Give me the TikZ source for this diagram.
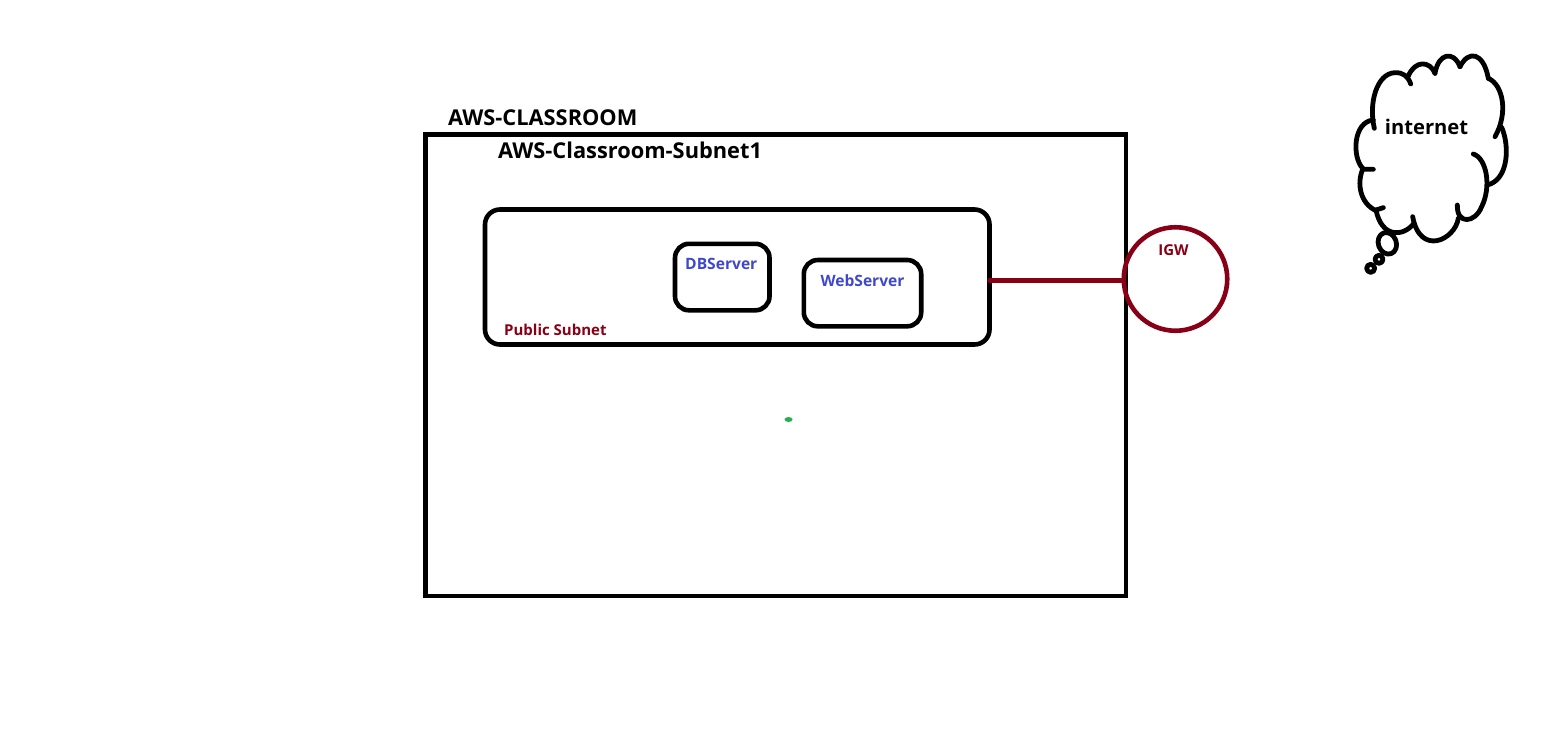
\documentclass[tikz,border=0pt]{standalone}
\usepackage{fontspec}
\setmainfont{Open Sans}
\usetikzlibrary{positioning, shapes.geometric}
\definecolor{igwred}{HTML}{880015}
\definecolor{srvblue}{HTML}{3F48CC}
\definecolor{dotgreen}{HTML}{22B14C}
\tikzset{
	roombox/.style={draw, line width=4.8pt, anchor=north west, inner sep=0pt, outer sep=0pt},
	subnetbox/.style={draw, line width=4.6pt, rounded corners=15pt, anchor=north west, inner sep=0pt, outer sep=0pt},
	serverbox/.style={draw, line width=4.6pt, rounded corners=14pt, anchor=north west, inner sep=0pt, outer sep=0pt},
	titletext/.style={font=\fontsize{21.8}{24}\selectfont\bfseries, inner sep=0pt},
	smalltext/.style={font=\fontsize{15}{17}\selectfont\bfseries, inner sep=0pt},
	puff/.style={line width=4.8pt, line cap=round, line join=round}
}
\begin{document}
\begin{tikzpicture}[x=1pt, y=-1pt]
	\useasboundingbox (0,0) rectangle (1549,734);
	% VPC and subnet
	\node[roombox, minimum width=700.5pt, minimum height=461.5pt] (room) at (425.5,134.5) {};
	\node[subnetbox, minimum width=504.5pt, minimum height=135pt] (pubsubnet) at (485,209.5) {};
	% Servers
	\node[serverbox, minimum width=94.5pt, minimum height=66.5pt] (dbsrv) at (675,243.8) {};
	\node[serverbox, minimum width=117.4pt, minimum height=66.3pt] (websrv) at (803.8,260) {};
	% Gateway
	\node[draw=igwred, line width=4.6pt, circle, minimum size=103.5pt, inner sep=0pt, outer sep=0pt] (igw) at (1175.5,279) {};
	\draw[igwred, line width=4.6pt, line cap=round] ([yshift=-1.5pt]igw.west) -- ([yshift=-1.5pt]igw.west -| pubsubnet.east);
	% Stray dot
	\node[fill=dotgreen, ellipse, minimum width=8pt, minimum height=5pt, inner sep=0pt] (dot) at (788.5,419.5) {};
	% Labels
	\node[titletext, above right=8.5pt and 22.5pt of room.north west] (roomlabel) {AWS-CLASSROOM};
	\node[titletext, below right=7.5pt and 72.5pt of room.north west] (subnetlabel) {AWS-Classroom-Subnet1};
	\node[smalltext, text=igwred, above right=8.5pt and 19pt of pubsubnet.south west] (publabel) {Public Subnet};
	\node[smalltext, font=\fontsize{15.6}{17}\selectfont\bfseries, text=srvblue, below=14.5pt of dbsrv.north, xshift=-1pt] (dblabel) {DBServer};
	\node[smalltext, font=\fontsize{15.6}{17}\selectfont\bfseries, text=srvblue, below=14.5pt of websrv.north] (weblabel) {WebServer};
	\node[smalltext, text=igwred, below=17pt of igw.north, xshift=-2pt] (igwlabel) {IGW};
	% Cloud
	\begin{scope}[shift={(1340,40)}, x=0.3333pt, y=-0.3333pt]
		\draw[puff] (103,265) .. controls (85,190) and (110,100) .. (165,98) .. controls (190,97) and (205,110) .. (212,132);
		\draw[puff] (205,108) .. controls (225,60) and (270,62) .. (285,100);
		\draw[puff] (285,100) .. controls (295,40) and (340,30) .. (360,80);
		\draw[puff] (360,80) .. controls (385,30) and (430,35) .. (445,115);
		\draw[puff] (445,115) .. controls (490,135) and (505,220) .. (465,290);
		\draw[puff] (485,262) .. controls (510,320) and (505,420) .. (442,435);
		\draw[puff] (400,342) .. controls (440,355) and (455,440) .. (425,500) .. controls (405,550) and (350,555) .. (352,495);
		\draw[puff] (355,535) .. controls (345,600) and (240,650) .. (218,530);
		\draw[puff] (220,552) .. controls (190,590) and (125,595) .. (108,510) -- (130,503);
		\draw[puff] (108,512) .. controls (60,490) and (50,430) .. (68,388) -- (100,388);
		\draw[puff] (68,385) .. controls (35,350) and (40,245) .. (100,240);
		% Thought bubbles
		\draw[puff] (142,610) ellipse [x radius=27, y radius=33, rotate=20];
		\draw[puff] (117,658) circle [radius=12];
		\draw[puff] (92,685) circle [radius=12];
	\end{scope}
	\node[titletext, font=\fontsize{20.2}{24}\selectfont\bfseries] (netlabel) at (1426.5,127) {internet};
\end{tikzpicture}
\end{document}
